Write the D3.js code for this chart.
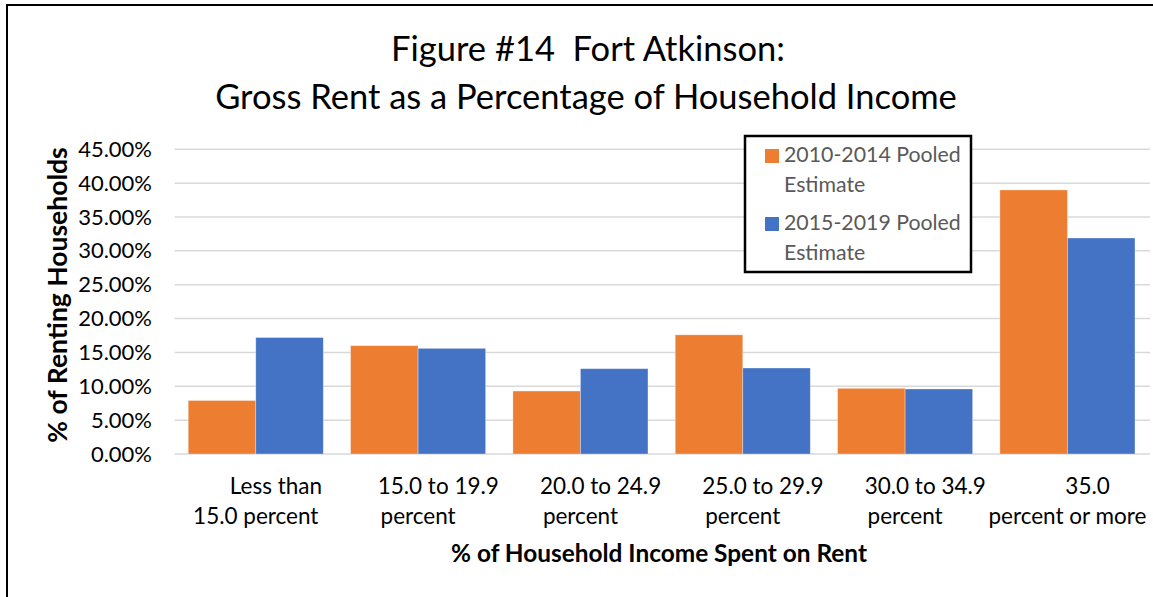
<!DOCTYPE html>
<html>
<head>
<meta charset="utf-8">
<script src="https://cdn.jsdelivr.net/npm/d3@7"></script>
<style>
  body { margin: 0; background: #fff; }
  svg { display: block; font-family: Lato, "Open Sans", sans-serif; }
</style>
</head>
<body>
<script>
// chart data
var categories = ["Less than 15.0 percent", "15.0 to 19.9 percent", "20.0 to 24.9 percent",
                  "25.0 to 29.9 percent", "30.0 to 34.9 percent", "35.0 percent or more"];
// wrapped axis labels as Excel shows them (leading spaces kept)
var categoryLines = [["       Less than", "15.0 percent"],
                     ["       15.0 to 19.9", "percent"],
                     ["       20.0 to 24.9", "percent"],
                     ["       25.0 to 29.9", "percent"],
                     ["       30.0 to 34.9", "percent"],
                     ["       35.0", "percent or more"]];
var seriesNames = ["2010-2014 Pooled Estimate", "2015-2019 Pooled Estimate"];
var legendLines = [["2010-2014 Pooled", "Estimate"], ["2015-2019 Pooled", "Estimate"]];
var pooled2010 = [7.9, 16.0, 9.3, 17.6, 9.7, 39.0];
var pooled2015 = [17.2, 15.6, 12.6, 12.7, 9.6, 31.9];
var yTicks = [0, 5, 10, 15, 20, 25, 30, 35, 40, 45];
var colors = ["#ED7D31", "#4472C4"];

var w = 1153, h = 597;
var svg = d3.select("body").append("svg").attr("width", w).attr("height", h);

// outer chart border (runs off the right and bottom of the picture)
svg.append("rect").attr("x", 7).attr("y", 5).attr("width", w + 20).attr("height", h + 20)
  .attr("fill", "none").attr("stroke", "#000").attr("stroke-width", 2);

// title
var title = svg.append("text").attr("text-anchor", "middle").attr("fill", "#000")
  .style("font-size", "34.5px").style("white-space", "pre");
title.append("tspan").attr("x", 588).attr("y", 61).text("Figure #14  Fort Atkinson:");
title.append("tspan").attr("x", 586).attr("y", 109).text("Gross Rent as a Percentage of Household Income");

// scales
var x = d3.scaleBand().domain(categories).range([174.6, 1148.6]).paddingInner(0.168).paddingOuter(0.084);
var x1 = d3.scaleBand().domain(seriesNames).range([0, x.bandwidth()]);
var y = d3.scaleLinear().domain([0, 45]).range([454, 149.3]);

// gridlines
svg.append("g").selectAll("line").data(yTicks).enter().append("line")
  .attr("x1", 174.6).attr("x2", 1150)
  .attr("y1", function (d) { return y(d); }).attr("y2", function (d) { return y(d); })
  .attr("stroke", "#d9d9d9").attr("stroke-width", 1.5);

// y axis labels
var yAxis = svg.append("g").attr("transform", "translate(152,0)")
  .call(d3.axisLeft(y).tickValues(yTicks).tickSize(0).tickPadding(0)
    .tickFormat(function (d) { return d.toFixed(2) + "%"; }));
yAxis.select(".domain").remove();
yAxis.selectAll("text").attr("fill", "#000").style("font-size", "22px").style("font-family", "Lato");

// bars
var rows = categories.map(function (c, i) {
  return { cat: c, vals: [pooled2010[i], pooled2015[i]] };
});
var groups = svg.append("g").selectAll("g").data(rows).enter().append("g")
  .attr("transform", function (d) { return "translate(" + x(d.cat) + ",0)"; });
groups.selectAll("rect").data(function (d) {
  return d.vals.map(function (v, j) { return { name: seriesNames[j], v: v, j: j }; });
}).enter().append("rect")
  .attr("x", function (d) { return x1(d.name); })
  .attr("width", x1.bandwidth())
  .attr("y", function (d) { return y(d.v); })
  .attr("height", function (d) { return y(0) - y(d.v); })
  .attr("fill", function (d) { return colors[d.j]; })
  .attr("stroke", "#fff").attr("stroke-opacity", 0.4).attr("stroke-width", 0.8);

// x category labels, two lines each
var xl = svg.append("g").selectAll("text").data(categories).enter().append("text")
  .attr("text-anchor", "middle").attr("fill", "#000").style("font-size", "22.5px")
  .style("white-space", "pre");
xl.each(function (d, i) {
  var cx = x(d) + x.bandwidth() / 2;
  d3.select(this).append("tspan").attr("x", cx).attr("y", 494).text(categoryLines[i][0]);
  d3.select(this).append("tspan").attr("x", cx).attr("y", 524).text(categoryLines[i][1]);
});

// axis titles
svg.append("text").attr("x", 659).attr("y", 562).attr("text-anchor", "middle")
  .style("font-size", "24.4px").style("font-weight", "bold").text("% of Household Income Spent on Rent");
svg.append("text").attr("transform", "translate(67,295) rotate(-90)").attr("text-anchor", "middle")
  .style("font-size", "26.5px").style("font-weight", "bold").text("% of Renting Households");

// legend
var legend = svg.append("g");
legend.append("rect").attr("x", 745).attr("y", 136).attr("width", 226).attr("height", 136)
  .attr("fill", "#fff").attr("stroke", "#000").attr("stroke-width", 2.5);
var items = legend.selectAll("g.item").data(seriesNames).enter().append("g")
  .attr("transform", function (d, i) { return "translate(765," + (149 + i * 68) + ")"; });
items.append("rect").attr("width", 14).attr("height", 14)
  .attr("fill", function (d, i) { return colors[i]; });
items.append("text").attr("fill", "#595959").style("font-size", "21.3px")
  .each(function (d, i) {
    d3.select(this).append("tspan").attr("x", 19).attr("y", 13).text(legendLines[i][0]);
    d3.select(this).append("tspan").attr("x", 19).attr("y", 43).text(legendLines[i][1]);
  });
</script>
</body>
</html>
